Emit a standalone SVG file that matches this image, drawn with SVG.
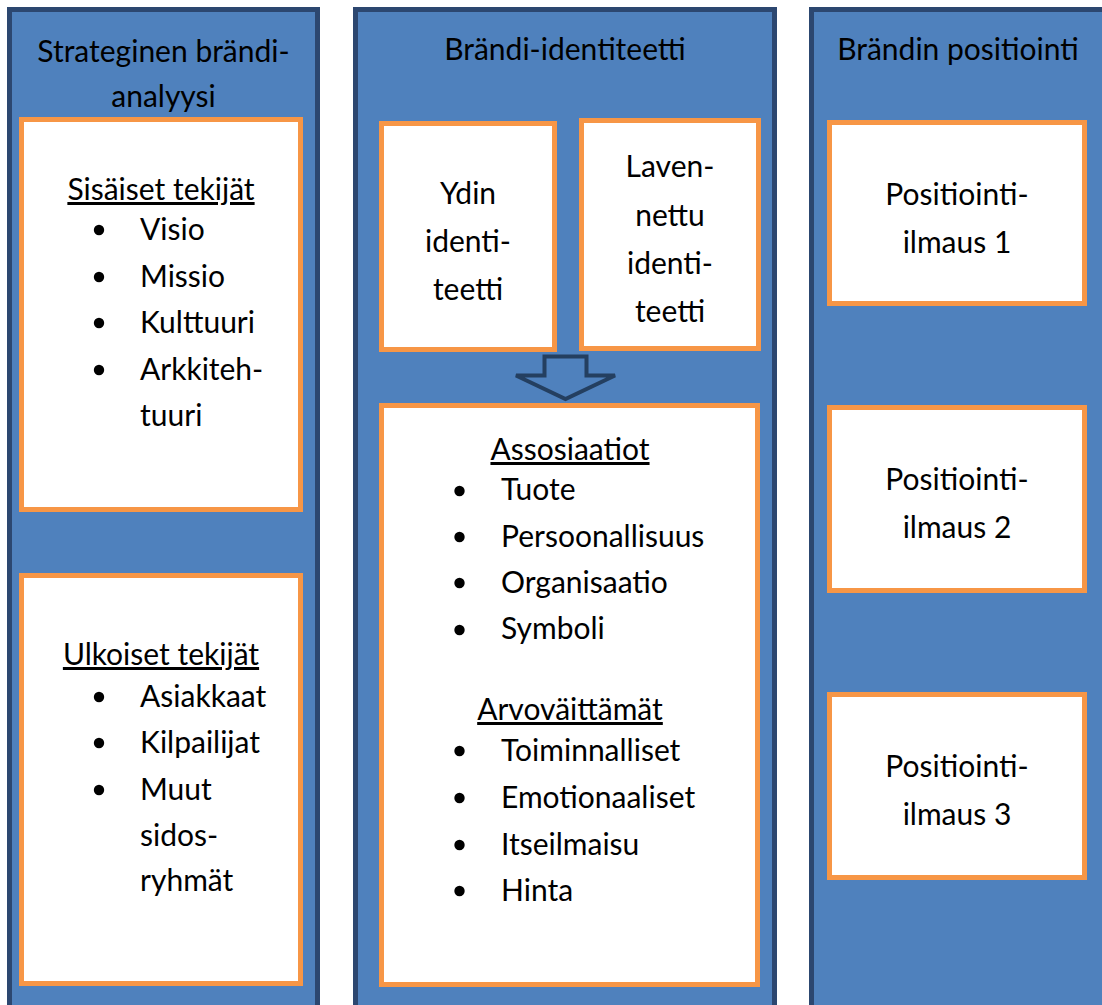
<svg xmlns="http://www.w3.org/2000/svg" width="1102" height="1005" viewBox="0 0 1102 1005">
  <style>
    .col { fill: #4F81BD; stroke: #2C4770; stroke-width: 5; }
    .box { fill: #FFFFFF; stroke: #F79646; stroke-width: 5; }
    text { font-family: Lato, "Open Sans", "Liberation Sans", sans-serif; font-size: 30px; fill: #000000; }
    .c { text-anchor: middle; }
    .u { text-decoration: underline; }
    .dot { fill: #000000; }
    .arrow { fill: #4F81BD; stroke: #243F60; stroke-width: 4; stroke-linejoin: miter; }
  </style>

  <rect width="1102" height="1005" fill="#FFFFFF"/>

  <!-- Column 1: strategic brand analysis -->
  <g id="col-analyysi">
    <rect class="col" x="9.5" y="9.5" width="308" height="1100"/>
    <text class="c" x="163.5" y="62">Strateginen brändi-</text>
    <text class="c" x="163.5" y="107">analyysi</text>
  </g>
  <g id="sisaiset">
    <rect class="box" x="21.5" y="119.5" width="279" height="390"/>
    <text class="c u" x="161" y="200">Sisäiset tekijät</text>
    <circle class="dot" cx="99" cy="230" r="5.2"/>
    <text x="140" y="240">Visio</text>
    <circle class="dot" cx="99" cy="277" r="5.2"/>
    <text x="140" y="287">Missio</text>
    <circle class="dot" cx="99" cy="323" r="5.2"/>
    <text x="140" y="333">Kulttuuri</text>
    <circle class="dot" cx="99" cy="370" r="5.2"/>
    <text x="140" y="380">Arkkiteh-</text>
    <text x="140" y="426">tuuri</text>
  </g>
  <g id="ulkoiset">
    <rect class="box" x="21.5" y="575.5" width="279" height="408"/>
    <text class="c u" x="161" y="665">Ulkoiset tekijät</text>
    <circle class="dot" cx="99" cy="697" r="5.2"/>
    <text x="140" y="707">Asiakkaat</text>
    <circle class="dot" cx="99" cy="743" r="5.2"/>
    <text x="140" y="753">Kilpailijat</text>
    <circle class="dot" cx="99" cy="790" r="5.2"/>
    <text x="140" y="800">Muut</text>
    <text x="140" y="846">sidos-</text>
    <text x="140" y="891">ryhmät</text>
  </g>

  <!-- Column 2: brand identity -->
  <g id="col-identiteetti">
    <rect class="col" x="355.5" y="9.5" width="419" height="1100"/>
    <text class="c" x="565" y="60">Brändi-identiteetti</text>
  </g>
  <g id="ydin">
    <rect class="box" x="381.5" y="123.5" width="173" height="226"/>
    <text class="c" x="468" y="204">Ydin</text>
    <text class="c" x="468" y="252">identi-</text>
    <text class="c" x="468" y="300">teetti</text>
  </g>
  <g id="laajennettu">
    <rect class="box" x="581.5" y="120.5" width="177" height="228"/>
    <text class="c" x="670" y="177">Laven-</text>
    <text class="c" x="670" y="226">nettu</text>
    <text class="c" x="670" y="274">identi-</text>
    <text class="c" x="670" y="322">teetti</text>
  </g>
  <g id="assosiaatiot">
    <rect class="box" x="381.5" y="405.5" width="376" height="579"/>
    <text class="c u" x="570" y="460">Assosiaatiot</text>
    <circle class="dot" cx="459.5" cy="491" r="5.2"/>
    <text x="501" y="500">Tuote</text>
    <circle class="dot" cx="459.5" cy="537" r="5.2"/>
    <text x="501" y="547">Persoonallisuus</text>
    <circle class="dot" cx="459.5" cy="583" r="5.2"/>
    <text x="501" y="593">Organisaatio</text>
    <circle class="dot" cx="459.5" cy="630" r="5.2"/>
    <text x="501" y="639">Symboli</text>
    <text class="c u" x="570" y="720">Arvoväittämät</text>
    <circle class="dot" cx="459.5" cy="751" r="5.2"/>
    <text x="501" y="761">Toiminnalliset</text>
    <circle class="dot" cx="459.5" cy="798" r="5.2"/>
    <text x="501" y="808">Emotionaaliset</text>
    <circle class="dot" cx="459.5" cy="845" r="5.2"/>
    <text x="501" y="855">Itseilmaisu</text>
    <circle class="dot" cx="459.5" cy="891" r="5.2"/>
    <text x="501" y="901">Hinta</text>
  </g>

  <!-- Column 3: brand positioning -->
  <g id="col-positiointi">
    <rect class="col" x="811.5" y="9.5" width="400" height="1100"/>
    <text class="c" x="958" y="60">Brändin positiointi</text>
  </g>
  <g id="positiointi-1">
    <rect class="box" x="829.5" y="122.5" width="255" height="181"/>
    <text class="c" x="957" y="205">Positiointi-</text>
    <text class="c" x="957" y="253">ilmaus 1</text>
  </g>
  <g id="positiointi-2">
    <rect class="box" x="829.5" y="407.5" width="255" height="183"/>
    <text class="c" x="957" y="490">Positiointi-</text>
    <text class="c" x="957" y="538">ilmaus 2</text>
  </g>
  <g id="positiointi-3">
    <rect class="box" x="829.5" y="694.5" width="255" height="183"/>
    <text class="c" x="957" y="777">Positiointi-</text>
    <text class="c" x="957" y="825">ilmaus 3</text>
  </g>

  <!-- Connectors: block arrow from identity boxes to associations -->
  <g id="connectors">
    <path class="arrow" d="M544.5 356.5 H586.5 V375.5 H615 L565.5 399 L516 375.5 H544.5 Z"/>
  </g>
</svg>
